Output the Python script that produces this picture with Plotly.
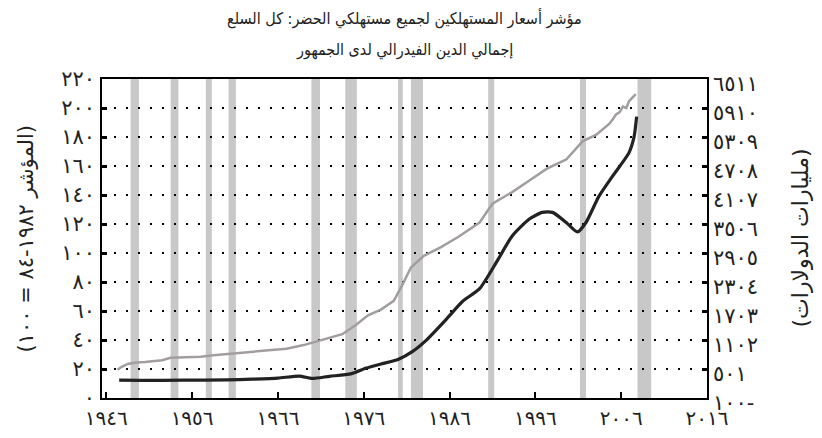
import plotly.graph_objects as go

def ar(n):
    return str(n).translate(str.maketrans("0123456789", "٠١٢٣٤٥٦٧٨٩"))

# CPI-U (index, left axis)
cpi_years = [1947.3, 1947.8, 1948.5, 1949.5, 1950.5, 1951.5, 1952.5, 1953.5, 1955.0, 1957.0,
             1958.5, 1960.5, 1963.0, 1965.0, 1967.0, 1969.0, 1970.5, 1972.0, 1973.5, 1975.0,
             1976.5, 1978.0, 1979.5, 1980.5, 1981.5, 1983.0, 1985.0, 1987.0, 1989.5, 1991.0,
             1993.3, 1995.3, 1997.3, 1999.6, 2001.5, 2003.1, 2004.0, 2004.6, 2005.0, 2005.4,
             2005.8, 2006.2, 2006.6, 2006.9, 2007.2, 2007.5, 2007.7]
cpi_values = [19.5, 21.5, 23.5, 24.5, 24.8, 25.5, 26.0, 27.8, 28.0, 28.5,
              29.5, 30.5, 31.5, 32.5, 34.0, 36.5, 39.0, 41.5, 44.0, 50.0,
              57.0, 61.0, 67.0, 78.0, 90.0, 98.0, 104.0, 111.0, 121.0, 134.0,
              142.0, 150.0, 158.0, 164.5, 177.0, 181.6, 186.0, 189.0, 192.0, 195.5,
              197.0, 201.0, 200.0, 204.5, 206.5, 208.0, 209.5]

# Total federal debt held by the public (billions of dollars, right axis)
debt_years = [1947.5, 1950.0, 1955.0, 1960.0, 1963.0, 1966.0, 1968.5, 1970.0, 1972.0, 1974.5,
              1976.3, 1978.0, 1980.0, 1981.7, 1983.3, 1985.7, 1987.5, 1989.5, 1991.5, 1993.3,
              1995.3, 1996.8, 1998.0, 1999.6, 2000.9, 2001.9, 2003.4, 2005.0, 2006.9, 2007.5,
              2007.8]
debt_values = [270, 265, 270, 275, 290, 312, 355, 305, 350, 400,
               520, 605, 700, 866, 1100, 1547, 1899, 2166, 2725, 3258,
               3609, 3747, 3747, 3537, 3341, 3537, 4078, 4498, 4980, 5310,
               5730]

# NBER recessions
rec_start = [1948.83, 1953.5, 1957.6, 1960.25, 1969.9, 1973.85, 1980.0, 1981.5, 1990.5, 2001.2, 2007.9]
rec_end = [1949.8, 1954.4, 1958.3, 1961.1, 1970.9, 1975.2, 1980.55, 1982.9, 1991.2, 2001.9, 2009.5]

x_ticks = [1946, 1956, 1966, 1976, 1986, 1996, 2006, 2016]
y_ticks = list(range(0, 221, 20))
y2_ticks = [-100 + 601 * k for k in range(12)]
y2_text = [ar(v) if v >= 0 else ar(-v) + "-" for v in y2_ticks]

title_1 = "مؤشر أسعار المستهلكين لجميع مستهلكي الحضر: كل السلع"
title_2 = "إجمالي الدين الفيدرالي لدى الجمهور"
y_title = "(المؤشر ١٩٨٢-٨٤ = ١٠٠)"
y2_title = "(مليارات الدولارات)"

FONT = "DejaVu Sans"
TFONT = "DejaVu Sans Condensed, DejaVu Sans"
TICK = 21

fig = go.Figure()
fig.add_trace(go.Scatter(x=cpi_years, y=cpi_values, mode="lines",
                         line=dict(color="#a39e9e", width=2.5), yaxis="y", showlegend=False))
fig.add_trace(go.Scatter(x=debt_years, y=debt_values, mode="lines",
                         line=dict(color="#222222", width=3.2, shape="spline", smoothing=0.6),
                         yaxis="y2", showlegend=False))

for s, e in zip(rec_start, rec_end):
    fig.add_shape(type="rect", xref="x", yref="y domain", x0=s, x1=e, y0=0, y1=1,
                  fillcolor="#c8c8c8", line=dict(width=0), layer="below")

fig.update_layout(
    template="none",
    width=814, height=430,
    margin=dict(l=94, r=115, t=71, b=40, autoexpand=False),
    paper_bgcolor="white", plot_bgcolor="white",
    font=dict(family=FONT, color="#222222", size=TICK),
    xaxis=dict(range=[1945.5, 2016], tickvals=x_ticks, ticktext=[ar(v) for v in x_ticks],
               ticks="inside", ticklen=6, tickwidth=2, tickcolor="black", automargin=False,
               showgrid=False, zeroline=False, showline=True, linecolor="black", linewidth=1.5,
               mirror=True, tickfont=dict(size=20), ticklabelstandoff=1),
    yaxis=dict(range=[0, 220], tickvals=y_ticks, ticktext=[ar(v) for v in y_ticks],
               ticks="inside", ticklen=5, tickwidth=2.5, tickcolor="black", automargin=False,
               showgrid=True, gridcolor="black", gridwidth=1.5, griddash="1.5px,10.5px",
               zeroline=False, showline=True, linecolor="black", linewidth=1.5, mirror=True,
               tickfont=dict(size=TICK), ticklabelstandoff=1),
    yaxis2=dict(range=[-100, 6511], tickvals=y2_ticks, ticktext=y2_text, overlaying="y",
                side="right", ticks="inside", ticklen=5, tickwidth=2.5, tickcolor="black",
                showgrid=False, zeroline=False, showline=False, automargin=False,
                tickfont=dict(size=TICK), ticklabelshift=5, ticklabelstandoff=5),
    annotations=[
        dict(text=title_1, xref="paper", yref="paper", x=0.5, y=1, yshift=61,
             showarrow=False, font=dict(family=TFONT, size=16, color="#222222"),
             xanchor="center", yanchor="middle"),
        dict(text=title_2, xref="paper", yref="paper", x=0.5, y=1, yshift=29,
             showarrow=False, font=dict(family=TFONT, size=16, color="#222222"),
             xanchor="center", yanchor="middle"),
        dict(text=y_title, xref="paper", yref="paper", x=0, xshift=-77, y=0.5,
             textangle=-90, showarrow=False, font=dict(size=21), xanchor="center", yanchor="middle"),
        dict(text=y2_title, xref="paper", yref="paper", x=1, xshift=93, y=0.5,
             textangle=-90, showarrow=False, font=dict(size=22), xanchor="center", yanchor="middle"),
    ],
)

fig.write_html("out.html")
